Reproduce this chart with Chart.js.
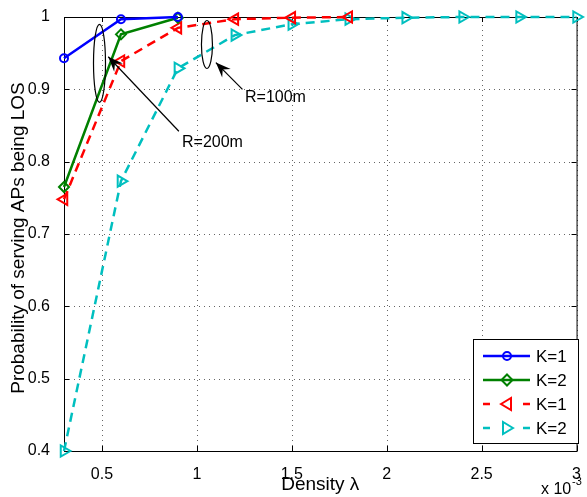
<!DOCTYPE html>
<html>
<head>
<meta charset="utf-8">
<script src="https://cdn.jsdelivr.net/npm/chart.js@4"></script>
<style>
  html, body { margin: 0; padding: 0; background: #fff; }
  #wrap { width: 587px; height: 497px; }
</style>
</head>
<body>
<div id="wrap"><canvas id="c" width="587" height="497"></canvas></div>
<script>
// data (density in units of 1e-3)
const density = [0.3, 0.6, 0.9, 1.2, 1.5, 1.8, 2.1, 2.4, 2.7, 3.0];
const xTicks = [0.5, 1, 1.5, 2, 2.5, 3];
const yTicks = [0.4, 0.5, 0.6, 0.7, 0.8, 0.9, 1];

const k1_r200 = [0.943, 0.997, 1.0];
const k2_r200 = [0.765, 0.976, 0.999];
const k1_r100 = [0.748, 0.939, 0.985, 0.997, 0.999, 1.0];
const k2_r100 = [0.40, 0.773, 0.929, 0.975, 0.990, 0.997, 0.999, 1.0, 1.0, 1.0];

const labels = ['K=1', 'K=2', 'K=1', 'K=2'];

const FONT = '"Liberation Sans", Arial, sans-serif';

function pts(ys) {
  return ys.map((y, i) => ({ x: density[i], y: y }));
}

// 범례용 마커
function marker(ctx, kind, x, y, color) {
  ctx.save();
  ctx.strokeStyle = color;
  ctx.lineWidth = 2;
  ctx.setLineDash([]);
  ctx.beginPath();
  if (kind === 'circle') {
    ctx.arc(x, y, 4, 0, Math.PI * 2);
  } else if (kind === 'diamond') {
    ctx.moveTo(x, y - 5.5); ctx.lineTo(x + 5.5, y); ctx.lineTo(x, y + 5.5); ctx.lineTo(x - 5.5, y);
    ctx.closePath();
  } else if (kind === 'left') {
    ctx.moveTo(x - 6, y); ctx.lineTo(x + 4, y - 6); ctx.lineTo(x + 4, y + 6); ctx.closePath();
  } else {
    ctx.moveTo(x + 6, y); ctx.lineTo(x - 4, y - 6); ctx.lineTo(x - 4, y + 6); ctx.closePath();
  }
  ctx.stroke();
  ctx.restore();
}

function arrow(ctx, x0, y0, x1, y1) {
  ctx.save();
  ctx.strokeStyle = '#000';
  ctx.fillStyle = '#000';
  ctx.lineWidth = 1.2;
  ctx.beginPath();
  ctx.moveTo(x0, y0); ctx.lineTo(x1, y1);
  ctx.stroke();
  const a = Math.atan2(y1 - y0, x1 - x0);
  const L = 15, W = 6;
  ctx.beginPath();
  ctx.moveTo(x1, y1);
  ctx.lineTo(x1 - L * Math.cos(a) + W * Math.sin(a), y1 - L * Math.sin(a) - W * Math.cos(a));
  ctx.lineTo(x1 - L * 0.65 * Math.cos(a), y1 - L * 0.65 * Math.sin(a));
  ctx.lineTo(x1 - L * Math.cos(a) - W * Math.sin(a), y1 - L * Math.sin(a) + W * Math.cos(a));
  ctx.closePath();
  ctx.fill();
  ctx.restore();
}

const styles = [
  { color: '#0000ff', kind: 'circle', dash: [] },
  { color: '#008000', kind: 'diamond', dash: [] },
  { color: '#ff0000', kind: 'left', dash: [9, 6] },
  { color: '#00bfbf', kind: 'right', dash: [9, 6] }
];

// 격자, 프레임, 안쪽 눈금
const framePlugin = {
  id: 'frame',
  beforeDatasetsDraw(chart) {
    const { ctx, chartArea: a, scales } = chart;
    ctx.save();
    // dotted grid
    ctx.strokeStyle = 'rgba(0,0,0,0.6)';
    ctx.lineWidth = 1;
    ctx.setLineDash([1, 4]);
    ctx.beginPath();
    xTicks.forEach(v => {
      const x = Math.round(scales.x.getPixelForValue(v)) + 0.5;
      ctx.moveTo(x, a.bottom); ctx.lineTo(x, a.top);
    });
    yTicks.forEach(v => {
      const y = Math.round(scales.y.getPixelForValue(v)) + 0.5;
      ctx.moveTo(a.left, y); ctx.lineTo(a.right, y);
    });
    ctx.stroke();
    ctx.setLineDash([]);

    ctx.strokeStyle = '#000';
    ctx.lineWidth = 1;
    ctx.strokeRect(a.left + 0.5, a.top + 0.5, a.right - a.left, a.bottom - a.top);
    ctx.beginPath();
    xTicks.forEach(v => {
      const x = Math.round(scales.x.getPixelForValue(v)) + 0.5;
      ctx.moveTo(x, a.bottom); ctx.lineTo(x, a.bottom - 5);
      ctx.moveTo(x, a.top); ctx.lineTo(x, a.top + 5);
    });
    yTicks.forEach(v => {
      const y = Math.round(scales.y.getPixelForValue(v)) + 0.5;
      ctx.moveTo(a.left, y); ctx.lineTo(a.left + 5, y);
      ctx.moveTo(a.right, y); ctx.lineTo(a.right - 5, y);
    });
    ctx.stroke();
    ctx.restore();
  },
  afterDraw(chart) {
    const { ctx, chartArea: a, scales } = chart;
    const sx = scales.x, sy = scales.y;
    ctx.save();
    ctx.fillStyle = '#000';

    // axis titles
    ctx.font = '19px ' + FONT;
    ctx.textAlign = 'center';
    ctx.textBaseline = 'middle';
    ctx.fillText('Density λ', (a.left + a.right) / 2, 485);
    ctx.save();
    ctx.translate(19, 238);
    ctx.rotate(-Math.PI / 2);
    ctx.fillText('Probability of serving APs being LOS', 0, 0);
    ctx.restore();

    // x 10^-3
    ctx.textAlign = 'left';
    ctx.font = '16px ' + FONT;
    ctx.fillText('x 10', 541, 490);
    ctx.font = '11px ' + FONT;
    ctx.fillText('-3', 572, 482);

    // ellipses
    ctx.strokeStyle = '#000';
    ctx.lineWidth = 1.2;
    ctx.beginPath();
    ctx.ellipse(sx.getPixelForValue(0.487), sy.getPixelForValue(0.936), 6, 39, 0, 0, Math.PI * 2);
    ctx.stroke();
    ctx.beginPath();
    ctx.ellipse(sx.getPixelForValue(1.053), sy.getPixelForValue(0.962), 5.5, 24, 0, 0, Math.PI * 2);
    ctx.stroke();

    // arrows + labels
    arrow(ctx, sx.getPixelForValue(0.905), sy.getPixelForValue(0.842),
               sx.getPixelForValue(0.533), sy.getPixelForValue(0.945));
    arrow(ctx, sx.getPixelForValue(1.24), sy.getPixelForValue(0.900),
               sx.getPixelForValue(1.10), sy.getPixelForValue(0.937));
    ctx.font = '16px ' + FONT;
    ctx.textBaseline = 'middle';
    ctx.fillText('R=200m', 182, 143);
    ctx.fillText('R=100m', 245, 98);

    // legend
    const bx = 473, by = 339, bw = 105, bh = 104;
    ctx.fillStyle = '#fff';
    ctx.fillRect(bx, by, bw, bh);
    ctx.strokeStyle = '#000';
    ctx.lineWidth = 1;
    ctx.strokeRect(bx + 0.5, by + 0.5, bw, bh);
    const rows = [356, 380, 404, 428];
    styles.forEach((s, i) => {
      const y = rows[i];
      ctx.save();
      ctx.strokeStyle = s.color;
      ctx.lineWidth = 2.5;
      ctx.beginPath();
      if (s.dash.length) {
        ctx.moveTo(483, y); ctx.lineTo(490, y);
        ctx.moveTo(523, y); ctx.lineTo(530, y);
      } else {
        ctx.moveTo(483, y); ctx.lineTo(530, y);
      }
      ctx.stroke();
      ctx.restore();
      marker(ctx, s.kind, 507, y, s.color);
      ctx.fillStyle = '#000';
      ctx.font = '17px ' + FONT;
      ctx.textAlign = 'left';
      ctx.fillText(labels[i], 536, y + 1);
    });
    ctx.restore();
  }
};

const series = [k1_r200, k2_r200, k1_r100, k2_r100];
const datasets = series.map((ys, i) => {
  const s = styles[i];
  const ps = { circle: 'circle', diamond: 'rectRot', left: 'triangle', right: 'triangle' }[s.kind];
  return {
    label: labels[i],
    data: pts(ys),
    borderColor: s.color,
    borderWidth: 2.5,
    borderDash: s.dash,
    pointStyle: ps,
    pointRotation: s.kind === 'left' ? -90 : (s.kind === 'right' ? 90 : 0),
    pointRadius: s.kind === 'circle' ? 4 : (s.kind === 'diamond' ? 5 : 6.5),
    pointBorderWidth: 2,
    pointBackgroundColor: 'rgba(0,0,0,0)',
    pointBorderColor: s.color,
    tension: 0,
    clip: false
  };
});

new Chart(document.getElementById('c').getContext('2d'), {
  type: 'line',
  data: { datasets: datasets },
  options: {
    responsive: false,
    animation: false,
    layout: { padding: { top: 17, right: 2, left: 0, bottom: 0 } },
    plugins: { legend: { display: false }, tooltip: { enabled: false } },
    scales: {
      x: {
        type: 'linear',
        min: 0.3, max: 3,
        afterBuildTicks: s => { s.ticks = xTicks.map(v => ({ value: v })); },
        afterFit: s => { s.height = 46; },
        ticks: {
          color: '#000', padding: 6, maxRotation: 0,
          font: { family: FONT, size: 16 },
          callback: v => String(v)
        },
        grid: { display: false },
        border: { display: false }
      },
      y: {
        type: 'linear',
        min: 0.4, max: 1,
        afterBuildTicks: s => { s.ticks = yTicks.map(v => ({ value: v })); },
        afterFit: s => { s.width = 64; },
        ticks: {
          color: '#000', padding: 6,
          font: { family: FONT, size: 16 },
          callback: v => String(Math.round(v * 10) / 10)
        },
        grid: { display: false },
        border: { display: false }
      }
    }
  },
  plugins: [framePlugin]
});
</script>
</body>
</html>
